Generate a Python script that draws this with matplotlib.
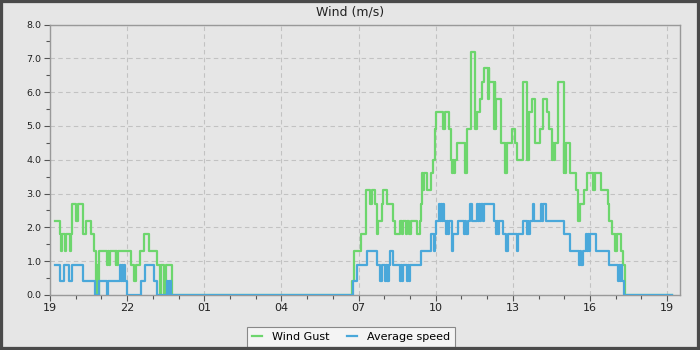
import matplotlib
matplotlib.use("Agg")
import matplotlib.pyplot as plt
from matplotlib.ticker import MultipleLocator, FuncFormatter
from matplotlib.patches import Rectangle

# hours since 19:00 (start of window) and values (m/s), step-post breakpoints
gust_t = [0.18, 0.40, 0.42, 0.46, 0.59, 0.62, 0.77, 0.80, 0.86, 1.01, 1.08, 1.30, 1.40, 1.58,
          1.71, 1.77, 1.80, 1.84, 1.86, 1.90, 2.23, 2.26, 2.29, 2.33, 2.55, 2.58, 2.61, 2.64,
          3.14, 3.25, 3.35, 3.51, 3.64, 3.84, 4.16, 4.27, 4.33, 4.45, 4.50, 4.75,
          11.76, 11.81, 12.08, 12.28, 12.44, 12.53, 12.65, 12.70, 12.75, 12.91, 12.95, 13.09,
          13.32, 13.43, 13.63, 13.68, 13.72, 13.86, 13.90, 13.96, 14.02, 14.26, 14.38, 14.41,
          14.46, 14.50, 14.54, 14.65, 14.80, 14.88, 14.96, 15.01, 15.30, 15.37, 15.52, 15.61,
          15.64, 15.67, 15.70, 15.74, 15.82, 16.13, 16.21, 16.36, 16.52, 16.62, 16.73, 16.80,
          16.88, 17.03, 17.06, 17.09, 17.27, 17.30, 17.32, 17.35, 17.53, 17.69, 17.72, 17.75,
          17.79, 17.97, 18.10, 18.15, 18.39, 18.54, 18.57, 18.60, 18.63, 18.73, 18.88, 19.04,
          19.19, 19.32, 19.42, 19.53, 19.57, 19.60, 19.64, 19.76, 19.97, 20.00, 20.03, 20.08,
          20.23, 20.44, 20.55, 20.63, 20.78, 20.90, 21.11, 21.14, 21.17, 21.19, 21.43, 21.69,
          21.74, 21.87, 21.99, 22.01, 22.02, 22.04, 22.21, 22.29, 22.36, 24.20]
gust_v = [2.2, 1.8, 1.3, 1.8, 1.3, 1.8, 1.3, 1.8, 2.7, 2.2, 2.7, 1.8, 2.2, 1.8,
          1.3, 0.9, 0.0, 0.9, 0.0, 1.3, 0.9, 1.3, 0.9, 1.3, 0.9, 1.3, 0.9, 1.3,
          0.9, 0.4, 0.9, 1.3, 1.8, 1.3, 0.9, 0.0, 0.9, 0.0, 0.9, 0.0,
          0.4, 1.3, 1.8, 3.1, 2.7, 3.1, 2.7, 1.8, 2.2, 2.7, 3.1, 2.7,
          2.2, 1.8, 2.2, 1.8, 2.2, 1.8, 2.2, 1.8, 2.2, 1.8, 2.2, 2.7,
          3.6, 3.1, 3.6, 3.1, 3.6, 4.0, 4.9, 5.4, 4.9, 5.4, 4.9, 4.0,
          3.6, 4.0, 3.6, 4.0, 4.5, 3.6, 4.9, 7.2, 4.9, 5.4, 5.8, 6.3,
          6.7, 5.8, 6.7, 6.3, 4.9, 6.3, 4.9, 5.8, 4.5, 3.6, 4.5, 3.6,
          4.5, 4.9, 4.5, 4.0, 6.3, 4.0, 5.4, 4.0, 5.4, 5.8, 4.5, 4.9,
          5.8, 5.4, 4.9, 4.0, 4.5, 4.0, 4.5, 6.3, 3.6, 4.5, 3.6, 4.5,
          3.6, 3.1, 2.2, 2.7, 3.1, 3.6, 3.1, 3.6, 3.1, 3.6, 3.1, 2.7,
          2.2, 1.8, 1.3, 1.8, 1.3, 1.8, 1.3, 0.9, 0.0, 0.0]

avg_t = [0.18, 0.39, 0.56, 0.72, 0.84, 1.27, 1.74, 1.92, 2.21, 2.26, 2.73, 2.76, 2.80, 2.85,
         2.88, 2.92, 3.01, 3.53, 3.69, 4.05, 4.18, 4.55, 4.60, 4.63, 4.70,
         11.80, 11.92, 12.31, 12.70, 12.83, 12.91, 13.04, 13.07, 13.09, 13.14, 13.16, 13.19,
         13.24, 13.35, 13.61, 13.66, 13.68, 13.71, 13.87, 13.91, 13.95, 14.00, 14.44, 14.83,
         14.93, 14.96, 15.01, 15.11, 15.16, 15.20, 15.24, 15.27, 15.32, 15.40, 15.44, 15.47,
         15.53, 15.63, 15.69, 15.87, 16.10, 16.14, 16.18, 16.26, 16.34, 16.41, 16.62, 16.66,
         16.70, 16.74, 16.78, 16.82, 16.86, 17.27, 17.35, 17.39, 17.42, 17.45, 17.63, 17.74,
         17.82, 18.16, 18.21, 18.39, 18.54, 18.57, 18.60, 18.67, 18.80, 18.84, 19.11, 19.15,
         19.19, 19.27, 19.97, 20.23, 20.57, 20.62, 20.66, 20.73, 20.86, 20.89, 20.92, 20.95,
         20.99, 21.25, 21.74, 22.10, 22.13, 22.16, 22.20, 22.23, 22.31, 24.20]
avg_v = [0.9, 0.4, 0.9, 0.4, 0.9, 0.4, 0.0, 0.4, 0.0, 0.4, 0.9, 0.4, 0.9, 0.4,
         0.9, 0.4, 0.0, 0.4, 0.9, 0.4, 0.0, 0.4, 0.0, 0.4, 0.0,
         0.4, 0.9, 1.3, 0.9, 0.4, 0.9, 0.4, 0.9, 0.4, 0.9, 0.4, 0.9,
         1.3, 0.9, 0.4, 0.9, 0.4, 0.9, 0.4, 0.9, 0.4, 0.9, 1.3, 1.8,
         1.3, 1.8, 2.2, 2.7, 2.2, 2.7, 2.2, 2.7, 2.2, 1.8, 2.2, 1.8,
         2.2, 1.3, 1.8, 2.2, 1.8, 2.2, 1.8, 2.2, 2.7, 2.2, 2.7, 2.2,
         2.7, 2.2, 2.7, 2.2, 2.7, 2.2, 1.8, 2.2, 1.8, 2.2, 1.8, 1.3,
         1.8, 1.3, 1.8, 2.2, 1.8, 2.2, 1.8, 2.2, 2.7, 2.2, 2.7, 2.2,
         2.7, 2.2, 1.8, 1.3, 0.9, 1.3, 0.9, 1.3, 1.8, 1.3, 1.8, 1.3,
         1.8, 1.3, 0.9, 0.4, 0.9, 0.4, 0.9, 0.4, 0.0, 0.0]

start_hour = 19
title = "Wind (m/s)"
series_names = ["Wind Gust", "Average speed"]

BG = "#e6e6e6"
fig = plt.figure(figsize=(7, 3.5), dpi=100, facecolor=BG)
ax = fig.add_axes([50 / 700, 1 - 295 / 350, 630 / 700, (295 - 24.5) / 350])
ax.set_facecolor(BG)

ax.step(gust_t, gust_v, where="post", color="#6dd66d", lw=1.6, label=series_names[0], zorder=3)
ax.step(avg_t, avg_v, where="post", color="#4aa8da", lw=1.6, label=series_names[1], zorder=4)

ax.set_xlim(0, 24.5)
ax.set_ylim(0, 8)
ax.xaxis.set_major_locator(MultipleLocator(3))
ax.xaxis.set_minor_locator(MultipleLocator(1))
ax.xaxis.set_major_formatter(FuncFormatter(lambda x, p: f"{(start_hour + int(round(x))) % 24:02d}"))
ax.yaxis.set_major_locator(MultipleLocator(1))
ax.yaxis.set_minor_locator(MultipleLocator(0.5))
ax.yaxis.set_major_formatter(FuncFormatter(lambda y, p: f"{y:.1f}"))

ax.grid(True, which="major", color="#c2c2c2", linestyle=(0, (4, 3)), linewidth=0.8)
for s in ax.spines.values():
    s.set_color("#999999")
    s.set_linewidth(1.0)
ax.tick_params(axis="both", which="major", length=4, width=0.8, color="#555555", direction="out")
ax.tick_params(axis="both", which="minor", length=3, width=0.8, color="#555555", direction="out")
ax.tick_params(axis="x", labelsize=8, labelcolor="#222222", pad=2)
ax.tick_params(axis="y", labelsize=6.8, labelcolor="#222222", pad=2)

fig.text(0.5, 1 - 12 / 350, title, ha="center", va="center", fontsize=9, color="#222222")

leg = ax.legend(loc="lower center", bbox_to_anchor=(351 / 700, 3.5 / 350), bbox_transform=fig.transFigure,
                ncol=2, frameon=True, fancybox=False, edgecolor="#888888", facecolor="#f4f4f4",
                framealpha=1, fontsize=8, handlelength=0.9, handletextpad=0.9, columnspacing=1.5,
                borderpad=0.45, borderaxespad=0)
leg.get_frame().set_linewidth(0.8)

fig.patches.append(Rectangle((0, 0), 1, 1, transform=fig.transFigure, fill=False,
                             edgecolor="#4a4a4a", linewidth=4.5, zorder=10))

fig.savefig("out.png", dpi=100, facecolor=BG)
